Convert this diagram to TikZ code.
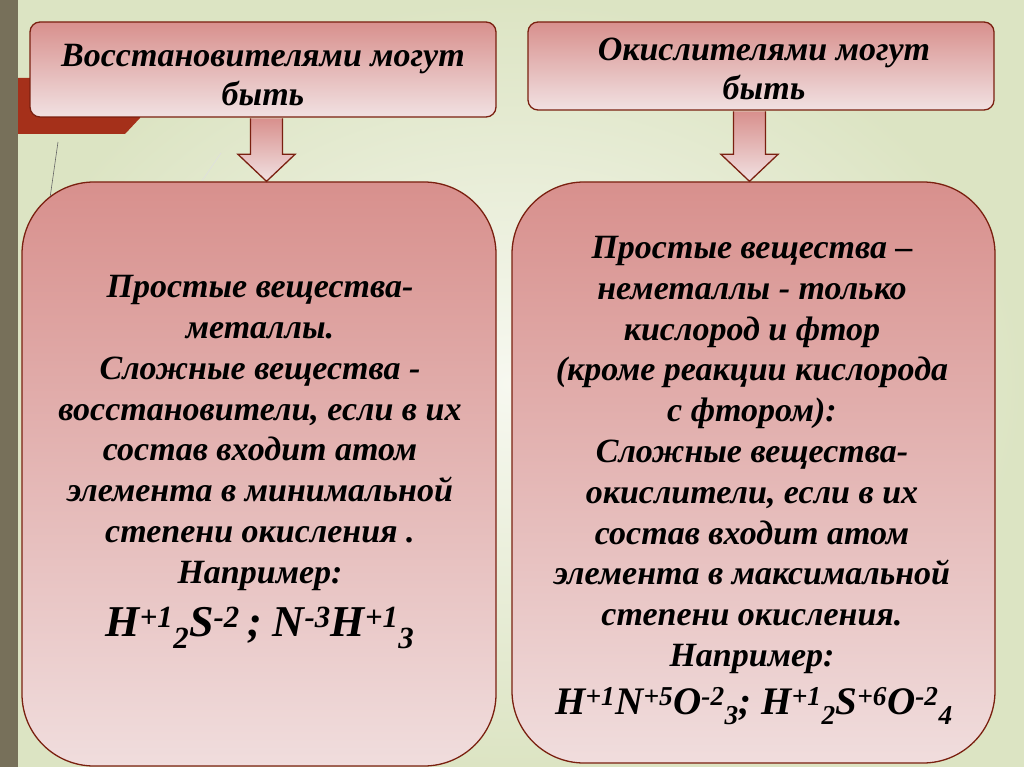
\documentclass[tikz,border=0pt]{standalone}
\usepackage{fontspec}
\setmainfont{Liberation Serif}
\usetikzlibrary{calc}
\definecolor{bgin}{HTML}{F7F8F0}
\definecolor{bgout}{HTML}{DCE4C3}
\definecolor{olivebar}{HTML}{77705A}
\definecolor{redbar}{HTML}{A5301A}
\definecolor{boxline}{HTML}{7A2010}
\definecolor{boxtop}{HTML}{D8908D}
\definecolor{boxbot}{HTML}{F1E1E2}
\definecolor{bigbot}{HTML}{F0DDDD}
\tikzset{
  hbox/.style={draw=boxline, line width=1.3pt, rounded corners=10pt, top color=boxtop, bottom color=boxbot, inner sep=0pt},
  bigbox/.style={draw=boxline, line width=1.3pt, rounded corners=72pt, top color=boxtop, bottom color=bigbot, inner sep=0pt},
  arrfill/.style={top color=boxtop, bottom color=boxbot},
  arrline/.style={draw=boxline, line width=1.3pt, line join=miter},
  ttl/.style={font=\fontsize{34}{39}\selectfont\bfseries\itshape, align=center, inner sep=0pt},
  body/.style={font=\fontsize{34}{40.8}\selectfont\bfseries\itshape, align=center, inner sep=0pt},
  frm/.style={font=\bfseries\itshape, inner sep=0pt}
}
\begin{document}
\begin{tikzpicture}[x=1pt,y=-1pt]
\useasboundingbox (0,0) rectangle (1024,767);
\shade[inner color=bgin, outer color=bgout] (0,0) rectangle (1024,767);
\fill[redbar] (0,78) -- (140,78) -- (140,118) -- (125,134) -- (0,134) -- cycle;
\fill[olivebar] (0,0) rectangle (18,767);
\draw[gray!80!black, line width=0.6pt] (58,142) -- (50,198);
\draw[gray!25, line width=0.6pt] (221,153) -- (202,181);

% boxes
\node[hbox, minimum width=466pt, minimum height=95pt] (t1) at (263,69.5) {};
\node[hbox, minimum width=466pt, minimum height=88pt] (t2) at (761,66) {};
\node[bigbox, minimum width=474pt, minimum height=584pt] (b1) at (259,474) {};
\node[bigbox, minimum width=483pt, minimum height=581pt] (b2) at (753.5,472.5) {};

% block arrows
\coordinate (a1) at (266.5,0);
\coordinate (a2) at (749.5,0);
\foreach \a/\t/\b in {a1/t1/b1, a2/t2/b2}{
  \path[arrfill] ($(\a|-\t.south)+(-16,0.7)$) -- ($(\a|-\b.north)+(-16,-27)$) -- ($(\a|-\b.north)+(-28.5,-27)$) -- (\a|-\b.north) -- ($(\a|-\b.north)+(28.5,-27)$) -- ($(\a|-\b.north)+(16,-27)$) -- ($(\a|-\t.south)+(16,0.7)$) -- cycle;
  \draw[arrline] ($(\a|-\t.south)+(-16,0.7)$) -- ($(\a|-\b.north)+(-16,-27)$) -- ($(\a|-\b.north)+(-28.5,-27)$) -- (\a|-\b.north) -- ($(\a|-\b.north)+(28.5,-27)$) -- ($(\a|-\b.north)+(16,-27)$) -- ($(\a|-\t.south)+(16,0.7)$);
}

% titles
\node[ttl] (tt1) at (263,75) {Восстановителями могут\\быть};
\node[ttl] (tt2) at (764,69) {Окислителями могут\\быть};

% body texts
\node[body] (bt1) at (260,433) {Простые вещества-\\металлы.\\Сложные вещества -\\восстановители, если в их\\состав  входит атом\\элемента в минимальной\\степени окисления .\\Например:};
\node[frm, font=\fontsize{44}{48}\selectfont\bfseries\itshape] (f1) at (260,628) {H\textsuperscript{+1}\textsubscript{2}S\textsuperscript{-2}\,; N\textsuperscript{-3}H\textsuperscript{+1}\textsubscript{3}};

\node[body] (bt2) at (752,455) {Простые вещества –\\неметаллы - только\\кислород и фтор\\(кроме реакции кислорода\\с фтором):\\Сложные вещества-\\окислители, если в их\\состав входит атом\\элемента в максимальной\\степени окисления.\\Например:};
\node[frm, font=\fontsize{39}{44}\selectfont\bfseries\itshape] (f2) at (754,706) {H\textsuperscript{+1}N\textsuperscript{+5}O\textsuperscript{-2}\textsubscript{3}; H\textsuperscript{+1}\textsubscript{2}S\textsuperscript{+6}O\textsuperscript{-2}\textsubscript{4}};
\end{tikzpicture}
\end{document}
